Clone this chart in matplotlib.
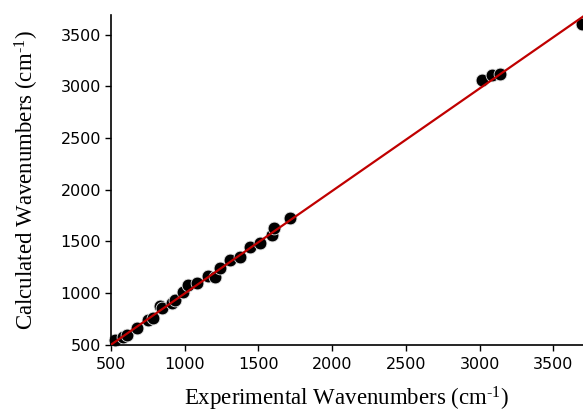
import matplotlib
matplotlib.use("Agg")
import matplotlib.pyplot as plt
import numpy as np

# experimental vs calculated wavenumbers (cm-1)
exp_wn = [527, 581, 609, 676, 751, 785, 832, 846, 914, 934, 988, 1022, 1083,
          1158, 1206, 1240, 1307, 1375, 1443, 1511, 1592, 1606, 1714,
          3017, 3085, 3139, 3690]
calc_wn = [548, 577, 597, 665, 742, 761, 878, 858, 907, 936, 1013, 1081, 1100,
           1168, 1158, 1245, 1323, 1352, 1449, 1487, 1565, 1633, 1729,
           3065, 3114, 3123, 3600]

# linear fit line
fit_slope = 0.992
fit_intercept = 4.0
fit_range = [500, 3700]

ticks = [500, 1000, 1500, 2000, 2500, 3000, 3500]

plt.rcParams['mathtext.fontset'] = 'custom'
plt.rcParams['mathtext.rm'] = 'Liberation Serif'
plt.rcParams['mathtext.it'] = 'Liberation Serif:italic'

fig = plt.figure(figsize=(5.83, 4.16), dpi=100)
ax = fig.add_axes([0.19, 0.171, 0.81, 0.793])

ax.scatter(exp_wn, calc_wn, s=85, c='black', edgecolors='#e0e0e0',
           linewidths=0.6, zorder=2, clip_on=False)
xl = np.array(fit_range, dtype=float)
ax.plot(xl, fit_slope * xl + fit_intercept, color='#c00000', lw=1.6, zorder=3)

ax.set_xlim(500, 3700)
ax.set_ylim(500, 3690)
ax.set_xticks(ticks)
ax.set_yticks(ticks)
ax.tick_params(direction='out', length=4, width=1, labelsize=11.5)
ax.tick_params(axis='x', pad=5)
ax.tick_params(axis='y', pad=3)
for s in ['top', 'right']:
    ax.spines[s].set_visible(False)
for s in ['left', 'bottom']:
    ax.spines[s].set_linewidth(1.2)

ax.set_xlabel(r'Experimental Wavenumbers (cm$^{\text{-1}}$)',
              family='Liberation Serif', fontsize=16.5, labelpad=9)
ax.set_ylabel(r'Calculated Wavenumbers (cm$^{\text{-1}}$)',
              family='Liberation Serif', fontsize=16.5, labelpad=14)

fig.savefig('out.png', dpi=100)
